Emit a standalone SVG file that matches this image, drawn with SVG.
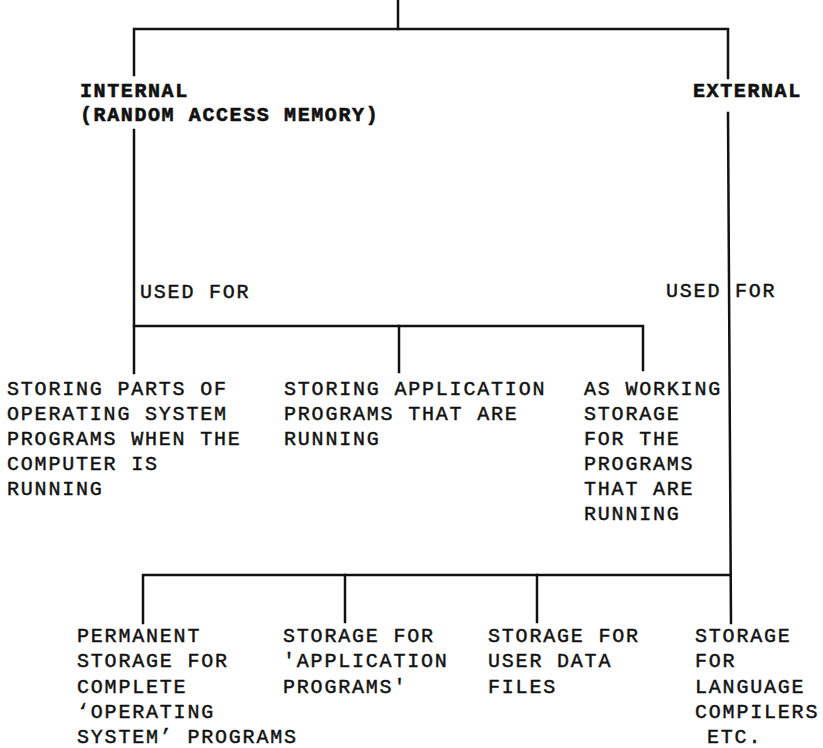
<svg xmlns="http://www.w3.org/2000/svg" width="823" height="748" viewBox="0 0 823 748">
<style>
.ln{stroke:#111;stroke-width:2.5;fill:none;stroke-linecap:square}
.t{font-family:"Liberation Mono","DejaVu Sans Mono",monospace;font-size:20px;letter-spacing:1.8px;fill:#111;stroke:#111;stroke-width:0.45}
.b{font-family:"Liberation Mono","DejaVu Sans Mono",monospace;font-size:20px;letter-spacing:1.6px;font-weight:bold;fill:#111;stroke:#111;stroke-width:0.6}
</style>
<rect width="823" height="748" fill="#fff"/>
<g id="connectors">
<path class="ln" d="M398,0 V29"/>
<path class="ln" d="M134,75 V29 H728 V78"/>
<path class="ln" d="M134,130 V373"/>
<path class="ln" d="M134,326 H643 V370"/>
<path class="ln" d="M399,326 V372"/>
<path class="ln" d="M728,113 L731,623"/>
<path class="ln" d="M143,623 V575 H730"/>
<path class="ln" d="M345,575 V622"/>
<path class="ln" d="M537,575 V622"/>
</g>
<g id="internal">
<text class="b" x="80" y="97">INTERNAL</text>
<text class="b" x="80" y="121">(RANDOM ACCESS MEMORY)</text>
</g>
<g id="external">
<text class="b" x="693" y="97">EXTERNAL</text>
</g>
<g id="used-for-internal">
<text class="t" x="140" y="298">USED FOR</text>
</g>
<g id="used-for-external">
<text class="t" x="666" y="297">USED</text>
<text class="t" x="735" y="297">FOR</text>
</g>
<g id="os-parts">
<text class="t" x="7" y="395">STORING PARTS OF</text>
<text class="t" x="7" y="420">OPERATING SYSTEM</text>
<text class="t" x="7" y="445">PROGRAMS WHEN THE</text>
<text class="t" x="7" y="470">COMPUTER IS</text>
<text class="t" x="7" y="495">RUNNING</text>
</g>
<g id="app-programs">
<text class="t" x="284" y="395">STORING APPLICATION</text>
<text class="t" x="284" y="420">PROGRAMS THAT ARE</text>
<text class="t" x="284" y="445">RUNNING</text>
</g>
<g id="working-storage">
<text class="t" x="584" y="395">AS WORKING</text>
<text class="t" x="584" y="420">STORAGE</text>
<text class="t" x="584" y="445">FOR THE</text>
<text class="t" x="584" y="470">PROGRAMS</text>
<text class="t" x="584" y="495">THAT ARE</text>
<text class="t" x="584" y="520">RUNNING</text>
</g>
<g id="permanent-os">
<text class="t" x="77" y="642">PERMANENT</text>
<text class="t" x="77" y="667">STORAGE FOR</text>
<text class="t" x="77" y="693">COMPLETE</text>
<text class="t" x="77" y="718">‘OPERATING</text>
<text class="t" x="77" y="743">SYSTEM’ PROGRAMS</text>
</g>
<g id="storage-apps">
<text class="t" x="283" y="642">STORAGE FOR</text>
<text class="t" x="283" y="667">'APPLICATION</text>
<text class="t" x="283" y="693">PROGRAMS'</text>
</g>
<g id="storage-user-data">
<text class="t" x="488" y="642">STORAGE FOR</text>
<text class="t" x="488" y="667">USER DATA</text>
<text class="t" x="488" y="693">FILES</text>
</g>
<g id="storage-compilers">
<text class="t" x="695" y="642">STORAGE</text>
<text class="t" x="695" y="667">FOR</text>
<text class="t" x="695" y="693">LANGUAGE</text>
<text class="t" x="695" y="718">COMPILERS</text>
<text class="t" x="707" y="743">ETC.</text>
</g>
</svg>
